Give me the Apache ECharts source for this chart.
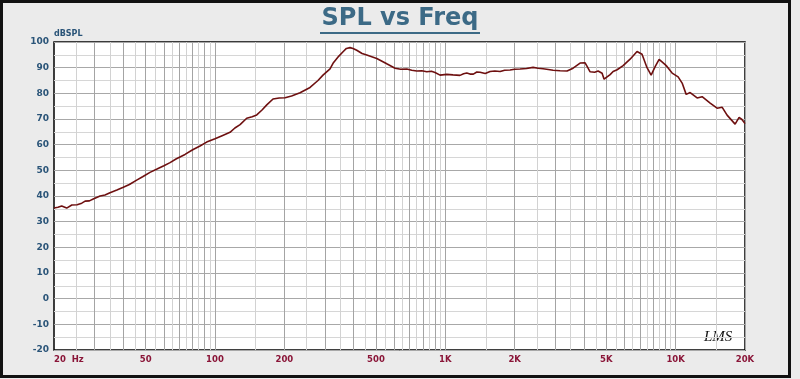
<!DOCTYPE html>
<html><head><meta charset="utf-8">
<script src="https://cdn.jsdelivr.net/npm/echarts@6/dist/echarts.min.js"></script>
<style>html,body{margin:0;padding:0;background:#ebebeb}#c{width:800px;height:379px}</style>
</head><body><div id="c"></div>
<script>
// Frequency (Hz)
const freq = [20,20.8,21.6,22.7,23.9,25.2,26.4,27.3,28.5,29.6,31.7,33.3,35,37.5,40,42.5,45.7,48.5,52.2,56,60,63.8,68,74.1,80,86.1,92,100,108,116.2,122,128.5,137.3,145,151.8,160,167.8,178.6,190,201.4,215,234,258.6,280,294.4,315.8,325.4,345,359.7,372,385.8,397.5,412.5,435,455.9,503.8,556.8,604.9,640,680.2,715,751.6,790,830.6,870,902.4,948.6,1014,1080,1158,1200,1239,1280,1323,1370,1415,1490,1564,1640,1729,1810,1910,2000,2111,2250,2404,2530,2657,2800,2937,3150,3377,3586,3846,4044,4126,4252,4450,4605,4793,4890,5193,5351,5570,5914,6341,6797,7145,7511,7826,8145,8477,9003,9183,9653,10249,10670,11106,11560,12393,13028,14117,15130,15905,16720,18115,18855,19400,20000];
// SPL (dB)
const spl = [35.3,35.6,36.1,35.3,36.5,36.6,37.2,38.0,38.1,38.8,40.0,40.4,41.3,42.3,43.4,44.5,46.2,47.5,49.2,50.5,51.8,53.0,54.5,56.2,58.0,59.5,61.0,62.3,63.6,64.8,66.5,67.8,70.3,70.9,71.6,73.5,75.5,77.8,78.2,78.3,79.0,80.2,82.3,85.0,87.1,89.5,91.7,94.5,96.2,97.5,97.8,97.5,96.8,95.5,94.9,93.6,91.5,89.8,89.4,89.5,89.0,88.7,88.8,88.4,88.6,88.1,87.1,87.4,87.2,87.0,87.6,87.9,87.5,87.5,88.3,88.2,87.7,88.5,88.7,88.5,89.0,89.1,89.4,89.5,89.7,90.1,89.8,89.6,89.3,89.0,88.8,88.7,89.8,91.8,91.9,90.5,88.4,88.2,88.7,87.8,85.5,87.3,88.5,89.2,90.8,93.3,96.3,95.2,90.0,87.1,90.4,93.2,91.2,90.4,87.9,86.4,84.0,79.6,80.3,78.2,78.7,76.2,74.2,74.6,71.5,68.0,70.6,69.8,68.2];
// X tick labels
const xLabelValues = [20,50,100,200,500,1000,2000,5000,10000,20000];
const xLabelTexts = ['20  Hz','50','100','200','500','1K','2K','5K','10K','20K'];
// Grid line positions
const majorGrid = [], minorGrid = [];
[10,100,1000,10000].forEach(d => {
  for (let m = 1; m < 10; m += 0.5) {
    const f = Math.round(m * d);
    if (f <= 20 || f >= 20000) continue;
    (Number.isInteger(m) ? majorGrid : minorGrid).push(f);
  }
});
majorGrid.push(20000);

const chart = echarts.init(document.getElementById('c'), null, {renderer:'canvas'});
const FONT = 'DejaVu Sans';
chart.setOption({
  backgroundColor: '#ebebeb',
  animation: false,
  graphic: [
    {type:'rect', z:-10, shape:{x:1.5,y:1.5,width:788,height:375}, style:{fill:'#ebebeb', stroke:'#111', lineWidth:3}},
    {type:'text', left:'center', top:7, style:{text:'SPL vs Freq', font:'bold 24px "DejaVu Sans"', fill:'#3c6a86'}},
    {type:'rect', left:'center', top:32, shape:{width:160,height:2}, style:{fill:'#3c6a86'}},
    {type:'text', left:704, top:330, style:{text:'LMS', font:'italic 15px "Liberation Serif"', fill:'#111'}}
  ],
  grid: {left:54, right:55, top:42, bottom:29, show:true, backgroundColor:'#fff', borderColor:'#000', borderWidth:1.5},
  xAxis: [
    {type:'log', logBase:10, min:20, max:20000,
     axisLine:{show:false}, axisTick:{show:false, customValues: majorGrid},
     splitLine:{show:true, lineStyle:{color:'#a4a4a4', width:1}},
     axisLabel:{customValues: xLabelValues, alignMinLabel:'left',
       formatter: v => { const i = xLabelValues.findIndex(x => Math.abs(x - v) < 1e-6); return i >= 0 ? xLabelTexts[i] : ''; },
       color:'#8a1538', fontFamily:FONT, fontWeight:'bold', fontSize:8.5, margin:5}
    },
    {type:'log', logBase:10, min:20, max:20000, position:'bottom',
     axisLine:{show:false}, axisTick:{show:false, customValues: minorGrid},
     axisLabel:{show:false, customValues: minorGrid},
     splitLine:{show:true, lineStyle:{color:'#d2d2d2', width:1}}
    }
  ],
  yAxis: {type:'value', min:-20, max:100, interval:10,
    name:'dBSPL', nameLocation:'end', nameGap:3,
    nameTextStyle:{align:'left', verticalAlign:'bottom', color:'#2a5478', fontFamily:FONT, fontWeight:'bold', fontSize:8, padding:[0,0,0,0]},
    axisLine:{show:false}, axisTick:{show:false},
    minorTick:{show:false, splitNumber:2},
    minorSplitLine:{show:true, lineStyle:{color:'#d6d6d6', width:1}},
    splitLine:{show:true, lineStyle:{color:'#a8a8a8', width:1}},
    axisLabel:{color:'#2a5478', fontFamily:FONT, fontWeight:'bold', fontSize:9, margin:5}
  },
  series: [{
    type:'line', xAxisIndex:0, showSymbol:false, symbol:'none', smooth:false,
    lineStyle:{color:'#6e1010', width:1.6},
    data: freq.map((f,i) => [f, spl[i]]),
    z:5
  }]
});
</script></body></html>
